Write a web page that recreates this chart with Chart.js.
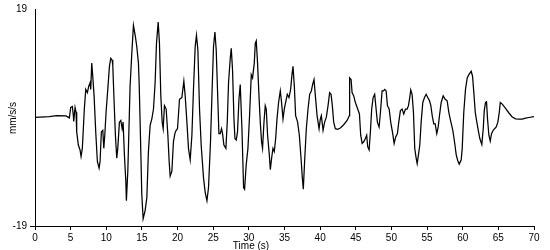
<!DOCTYPE html>
<html>
<head>
<meta charset="utf-8">
<script src="https://cdn.jsdelivr.net/npm/chart.js@4/dist/chart.umd.min.js"></script>
<style>
  html, body { margin: 0; padding: 0; background: #fff; }
  #wrap { width: 550px; height: 250px; }
</style>
</head>
<body>
<div id="wrap"><canvas id="chart"></canvas></div>
<script>
/************************ data *************************************************/
const times = [0, 2.0, 3.04, 4.35, 4.82, 5.01, 5.24, 5.38, 5.43, 5.62, 5.76, 5.85, 6.08, 6.32, 6.46, 6.64,
  6.92, 7.12, 7.35, 7.54, 7.72, 7.82, 7.96, 8.1, 8.29, 8.52, 8.75, 8.99, 9.13, 9.31, 9.51, 9.65, 9.79,
  9.97, 10.21, 10.44, 10.63, 10.81, 10.91, 11.1, 11.28, 11.47, 11.61, 11.84, 12.04, 12.22, 12.36, 12.54,
  12.74, 12.82, 13.02, 13.34, 13.58, 13.81, 14.09, 14.28, 14.51, 14.61, 14.79, 14.98, 15.17, 15.45,
  15.69, 15.91, 16.15, 16.39, 16.62, 16.85, 17.04, 17.28, 17.46, 17.65, 17.84, 17.98, 18.16, 18.4,
  18.64, 18.82, 18.96, 19.2, 19.42, 19.62, 19.8, 19.99, 20.27, 20.6, 20.88, 21.07, 21.31, 21.53, 21.77,
  22.01, 22.23, 22.47, 22.65, 22.85, 23.08, 23.31, 23.64, 23.88, 24.12, 24.34, 24.62, 24.82, 25.04,
  25.24, 25.42, 25.6, 25.8, 25.98, 26.17, 26.31, 26.5, 26.78, 26.97, 27.15, 27.39, 27.53, 27.71, 27.91,
  28.05, 28.23, 28.41, 28.61, 28.79, 29.03, 29.26, 29.4, 29.63, 29.87, 30.1, 30.34, 30.52, 30.76, 30.9,
  31.04, 31.22, 31.42, 31.6, 31.78, 31.92, 32.12, 32.3, 32.44, 32.63, 32.87, 33.01, 33.19, 33.38, 33.57,
  33.76, 33.95, 34.17, 34.41, 34.59, 34.79, 34.97, 35.16, 35.39, 35.63, 35.86, 36.05, 36.19, 36.38,
  36.56, 36.84, 37.08, 37.32, 37.5, 37.64, 37.82, 38.06, 38.3, 38.53, 38.76, 38.95, 39.14, 39.33, 39.57,
  39.85, 40.03, 40.17, 40.41, 40.63, 40.87, 41.11, 41.33, 41.53, 41.71, 41.9, 42.13, 42.46, 42.84, 43.3,
  43.78, 44.1, 44.14, 44.34, 44.48, 44.71, 44.94, 45.27, 45.51, 45.69, 45.89, 46.11, 46.35, 46.53, 46.67,
  46.87, 47.05, 47.23, 47.43, 47.65, 47.85, 48.03, 48.27, 48.46, 48.69, 48.88, 49.06, 49.26, 49.44,
  49.68, 49.9, 50.18, 50.38, 50.6, 50.84, 51.03, 51.26, 51.5, 51.73, 51.97, 52.2, 52.39, 52.57, 52.71,
  52.9, 53.09, 53.27, 53.47, 53.61, 53.79, 53.98, 54.17, 54.4, 54.64, 54.87, 55.1, 55.34, 55.53, 55.72,
  55.94, 56.14, 56.36, 56.56, 56.74, 56.98, 57.26, 57.54, 57.82, 58.05, 58.29, 58.61, 58.85, 59.09,
  59.31, 59.51, 59.79, 59.93, 60.15, 60.39, 60.63, 60.86, 61.19, 61.38, 61.56, 61.76, 61.98, 62.22,
  62.4, 62.68, 62.88, 63.02, 63.2, 63.34, 63.48, 63.67, 63.86, 64.04, 64.28, 64.47, 64.7, 64.93, 65.13,
  65.27, 65.55, 66.01, 66.48, 66.95, 67.42, 67.88, 68.36, 68.82, 69.28, 70];

const accel = [0, 0.17, 0.34, 0.29, -0.07, 1.77, 1.94, 0.34, -0.69, 1.77, 0.91, -2.53, -4.82, -5.68, -6.83, -5.4,
  1.48, 4.92, 4.35, 5.5, 6.08, 4.92, 9.52, 7.23, 3.79, -2.53, -7.69, -8.85, -7.69, -2.53, -2.24, -5.4, -3.1,
  0.91, 4.92, 8.95, 10.38, 10.09, 9.23, 2.63, -3.1, -7.13, -5.4, -0.81, -0.52, -1.96, -0.81, -6.54,
  -11.14, -14.58, -9.41, 5.5, 11.24, 16.11, 14.11, 12.39, 9.52, 6.08, -3.1, -13.43, -17.73, -16.3,
  -14.01, -5.97, -1.38, -0.24, 1.48, 6.08, 12.96, 16.7, 12.96, 3.79, -0.81, -1.96, 2.07, 1.48,
  -3.1, -7.69, -10.28, -9.41, -4.25, -2.82, -2.24, -1.96, 3.2, 3.49, 6.37, 3.79, -0.81, -5.4, -7.4,
  -3.1, 4.92, 12.39, 14.39, 11.81, 1.48, -4.82, -10.57, -13.15, -14.58, -12.29, -4.25, 3.79, 12.39,
  14.97, 11.81, 4.92, -2.82, -2.82, -1.96, -2.82, -4.82, -5.4, -0.81, 6.08, 10.38, 12.1, 8.37, -0.24,
  -3.68, -3.96, -2.53, 3.2, 5.78, -1.96, -12.29, -12.56, -8.26, -5.4, 0.34, 7.5, 6.94, 9.52, 12.96,
  13.42, 9.52, 3.79, -0.81, -4.25, -5.4, -0.81, 2.07, 1.48, -3.1, -6.54, -9.12, -7.13, -5.4, -5.97,
  -3.68, -0.24, 2.63, 4.65, 2.63, -0.24, 1.48, 2.63, 4.06, 3.49, 4.92, 7.5, 8.95, 5.5,
  0.34, -0.81, -3.1, -7.13, -10.57, -12.56, -7.69, -1.96, 1.48, 4.06, 4.65, 5.78, 6.65, 3.79, 0.34,
  -1.96, -0.24, 0.34, -2.24, -0.81, 0.05, 2.07, 4.35, 4.06, 2.07, -0.81, -1.96, -2.07, -1.85, -1.27,
  -0.52, 0.34, 6.94, 6.65, 4.35, 3.79, 2.63, 1.48, 0.62, -3.1, -4.54, -4.25, -3.68, -3.1, -5.11,
  -5.68, -2.53, 1.48, 3.49, 4.06, 1.48, -0.81, -1.67, 0.91, 4.65, 4.65, 4.92, 4.65, 2.07,
  1.48, -0.81, -2.82, -4.54, -3.39, -2.82, -0.81, 1.2, 1.48, 0.62, 1.48, 1.48, 2.07, 3.49, 4.82,
  4.06, 0.91, -5.4, -7.13, -8.09, -6.54, -4.82, -0.81, 2.63, 3.49, 4.06, 3.49, 2.92, 2.07, 0.34,
  -1.1, -1.1, -2.82, -1.67, 0.34, 2.63, 3.79, 3.2, 2.92, 0.91, -0.52, -2.24, -4.25, -6.54,
  -7.57, -8.16, -7.4, -5.4, 0.91, 4.92, 6.94, 7.5, 8.09, 7.23, 4.35, 0.91, -0.81, -2.53,
  -3.68, -4.71, -1.96, 1.2, 2.63, 2.74, -0.24, -3.1, -4.13, -2.82, -2.24, -1.96, -1.67, -0.81, 0.91,
  2.63, 2.34, 1.6, 0.79, 0.1, -0.24, -0.3, -0.3, -0.12, 0.0, 0.15];

const yTicks = [-19, 19];
const xTitle = "Time (s)";
const yTitle = "mm/s/s";

const FONT = "Liberation Sans, Arial, sans-serif";

/************************ axis titles plugin **********************************/
const axisTitles = {
  id: "axisTitles",
  afterDraw(chart) {
    const ctx = chart.ctx;
    ctx.save();
    ctx.fillStyle = "#000";
    ctx.font = "10px " + FONT;
    ctx.textAlign = "center";
    ctx.textBaseline = "middle";
    ctx.fillText(xTitle, 251, 246);
    ctx.translate(13, 118);
    ctx.rotate(-Math.PI / 2);
    ctx.fillText(yTitle, 0, 0);
    ctx.restore();
  }
};

const points = times.map((t, i) => ({ x: t, y: accel[i] }));

const ctx = document.getElementById("chart").getContext("2d");
const myChart = new Chart(ctx, {
  type: "line",
  data: {
    datasets: [{
      data: points,
      borderColor: "#000",
      borderWidth: 1.25,
      pointRadius: 0,
      tension: 0,
      fill: false
    }]
  },
  options: {
    responsive: true,
    maintainAspectRatio: false,
    animation: false,
    layout: { padding: { top: 5, right: 16, left: 0, bottom: 0 } },
    plugins: { legend: { display: false }, tooltip: { enabled: false } },
    scales: {
      x: {
        type: "linear",
        min: 0,
        max: 70,
        afterFit: (scale) => { scale.height = 24; },
        ticks: { stepSize: 5, color: "#000", font: { size: 10, family: FONT }, padding: 2, maxRotation: 0 },
        grid: { drawOnChartArea: false, drawTicks: true, tickLength: 4, color: "#000" },
        border: { display: true, color: "#000", width: 1 }
      },
      y: {
        min: -19,
        max: 19,
        afterFit: (scale) => { scale.width = 35; },
        afterBuildTicks: (scale) => { scale.ticks = yTicks.map(v => ({ value: v })); },
        ticks: { color: "#000", font: { size: 10, family: FONT }, padding: 3 },
        grid: {
          drawOnChartArea: false,
          drawTicks: true,
          tickLength: 5,
          color: (c) => (c.tick && c.tick.value === -19 ? "#000" : "rgba(0,0,0,0)")
        },
        border: { display: true, color: "#000", width: 1 }
      }
    }
  },
  plugins: [axisTitles]
});
</script>
</body>
</html>
